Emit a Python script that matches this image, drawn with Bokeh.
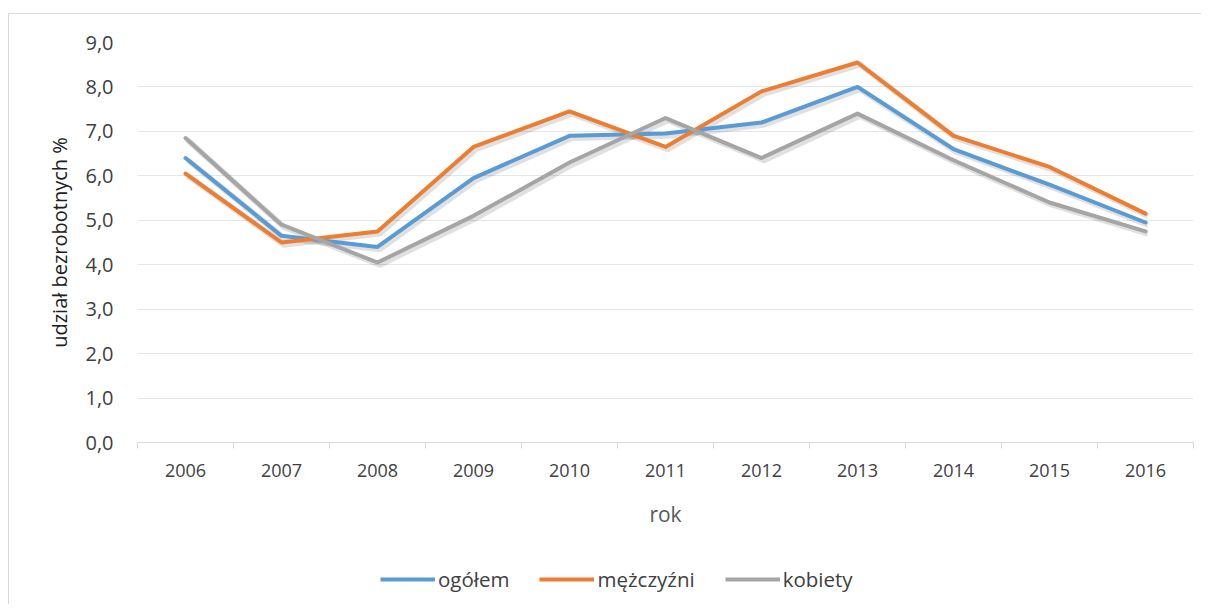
from bokeh.plotting import figure
from bokeh.layouts import column
from bokeh.models import Range1d, FixedTicker, CustomJSTickFormatter, Legend, LegendItem, ColumnDataSource
from bokeh.transform import dodge
from bokeh.embed import file_html
from bokeh.resources import INLINE

years = [2006, 2007, 2008, 2009, 2010, 2011, 2012, 2013, 2014, 2015, 2016]
ogolem = [6.4, 4.65, 4.4, 5.95, 6.9, 6.95, 7.2, 8.0, 6.6, 5.8, 4.95]
mezczyzni = [6.05, 4.5, 4.75, 6.65, 7.45, 6.65, 7.9, 8.55, 6.9, 6.2, 5.15]
kobiety = [6.85, 4.9, 4.05, 5.1, 6.3, 7.3, 6.4, 7.4, 6.35, 5.4, 4.75]
y_ticks = [0, 1, 2, 3, 4, 5, 6, 7, 8, 9]

FONT = "Open Sans"
TXT = "#404040"

p = figure(width=1193, height=528, output_backend="svg", toolbar_location=None,
           x_range=Range1d(2005.5, 2016.5), y_range=Range1d(0, 9),
           min_border_left=128, min_border_right=9, min_border_top=28, min_border_bottom=100)
p.styles = {"border-left": "1px solid #d9d9d9", "border-top": "1px solid #d9d9d9",
            "margin-top": "13px", "margin-left": "8px"}
p.outline_line_color = None
p.background_fill_color = "white"
p.border_fill_color = "white"

# grids
p.xgrid.grid_line_color = None
p.ygrid.grid_line_color = "#e3e6ea"
p.ygrid.grid_line_width = 1
p.ygrid.ticker = FixedTicker(ticks=y_ticks)

# y axis
p.yaxis.ticker = FixedTicker(ticks=y_ticks)
p.yaxis.formatter = CustomJSTickFormatter(code="return tick.toFixed(1).replace('.', ',');")
p.yaxis.axis_line_color = None
p.yaxis.major_tick_line_color = None
p.yaxis.minor_tick_line_color = None
p.yaxis.major_label_standoff = 18
p.yaxis.major_label_text_font = FONT
p.yaxis.major_label_text_font_size = "20px"
p.yaxis.major_label_text_color = TXT
p.yaxis.axis_label = "udział bezrobotnych %"
p.yaxis.axis_label_text_font = FONT
p.yaxis.axis_label_text_font_size = "20px"
p.yaxis.axis_label_text_font_style = "normal"
p.yaxis.axis_label_text_color = "#202020"
p.yaxis.axis_label_standoff = 9

# x axis
p.xaxis.ticker = FixedTicker(ticks=years, minor_ticks=[y - 0.5 for y in years] + [years[-1] + 0.5])
p.xaxis.axis_line_color = "#d9d9d9"
p.xaxis.major_tick_line_color = None
p.xaxis.major_tick_out = 0
p.xaxis.major_tick_in = 0
p.xaxis.minor_tick_line_color = "#d9d9d9"
p.xaxis.minor_tick_out = 6
p.xaxis.minor_tick_in = 0
p.xaxis.major_label_standoff = 15
p.xaxis.major_label_text_font = FONT
p.xaxis.major_label_text_font_size = "18px"
p.xaxis.major_label_text_color = TXT
p.xaxis.axis_label = "rok"
p.xaxis.axis_label_text_font = FONT
p.xaxis.axis_label_text_font_size = "21px"
p.xaxis.axis_label_text_font_style = "normal"
p.xaxis.axis_label_text_color = "#595959"
p.xaxis.axis_label_standoff = 20

src = ColumnDataSource(dict(year=years, ogolem=ogolem, mezczyzni=mezczyzni, kobiety=kobiety))
series = [("ogółem", "ogolem", "#5B9BD5"),
          ("mężczyźni", "mezczyzni", "#ED7D31"),
          ("kobiety", "kobiety", "#A5A5A5")]

# soft shadows
for name, col_name, col in series:
    p.line(x=dodge("year", 0.025, range=p.x_range), y=dodge(col_name, -0.05, range=p.y_range),
           source=src, line_color="#000000", line_alpha=0.12, line_width=6, line_join="round")

for name, col_name, col in series:
    p.line(x="year", y=col_name, source=src, line_color=col, line_width=4,
           line_join="round", line_cap="round")

# legend strip below the chart (same series, ranges chosen so only the legend shows)
p2 = figure(width=1193, height=63, output_backend="svg", toolbar_location=None,
            x_range=Range1d(0, 1), y_range=Range1d(0, 1),
            min_border_left=0, min_border_right=0, min_border_top=0, min_border_bottom=0)
p2.styles = {"border-left": "1px solid #d9d9d9", "margin-left": "8px"}
p2.axis.visible = False
p2.grid.visible = False
p2.outline_line_color = None
items = []
for name, col_name, col in series:
    r = p2.line(x="year", y=col_name, source=src, line_color=col, line_width=4)
    items.append(LegendItem(label=name, renderers=[r]))

legend = Legend(items=items, orientation="horizontal", location=(243, 11),
                glyph_width=55, glyph_height=18, label_standoff=3, spacing=30,
                label_text_font=FONT, label_text_font_size="20.5px", label_text_color=TXT,
                border_line_color=None, background_fill_alpha=0, padding=0, margin=0)
p2.add_layout(legend, "center")

layout = column(p, p2, spacing=0)
open("out.html", "w").write(file_html(layout, INLINE))
